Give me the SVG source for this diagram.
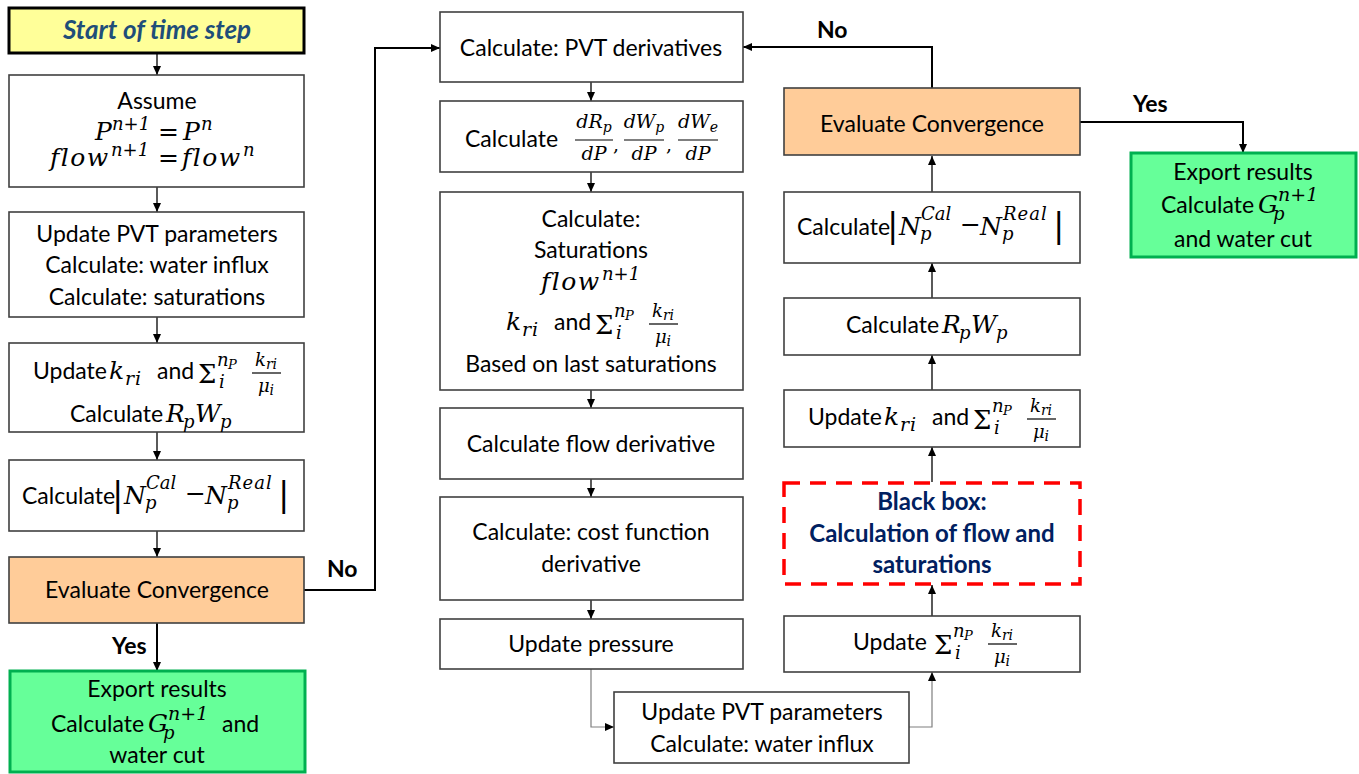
<svg xmlns="http://www.w3.org/2000/svg" width="1359" height="774" viewBox="0 0 1359 774">
<defs>
<marker id="ah" markerWidth="9" markerHeight="8" refX="9" refY="4" orient="auto" markerUnits="userSpaceOnUse"><path d="M0,0 L9,4 L0,8 z" fill="#000"/></marker>
<style>
.box{fill:#fff;stroke:#404040;stroke-width:1.6}
.conv{fill:#FFCC99;stroke:#404040;stroke-width:1.6}
.exp{fill:#66FF99;stroke:#00B050;stroke-width:3}
.t{font-family:Lato,"Open Sans",sans-serif;font-size:23px;fill:#000}
.c{text-anchor:middle}
.b{font-weight:bold}
.m{font-family:"DejaVu Serif",serif;font-style:italic;font-size:25px;fill:#000}
.r{font-style:normal}
.s{font-size:18px}
.ss{font-size:13px}
.f{font-size:19px}
.fs{font-size:14px}
.sg{font-size:26px}
.vb{font-size:34px}
.ls{letter-spacing:1.5px}
.ri{font-size:19px;letter-spacing:1px}
.ln{fill:none;stroke:#000;stroke-width:1.3}
.thk{fill:none;stroke:#000;stroke-width:2}
.gr{fill:none;stroke:#7f7f7f;stroke-width:1.2}
.bar{stroke:#000;stroke-width:1.2}
.bb{fill:#002060;font-size:24px}
</style>
</defs>

<g id="connectors">
<line class="ln" x1="157" y1="53" x2="157" y2="75" marker-end="url(#ah)"/>
<line class="ln" x1="157" y1="187" x2="157" y2="212" marker-end="url(#ah)"/>
<line class="ln" x1="157" y1="317" x2="157" y2="343" marker-end="url(#ah)"/>
<line class="ln" x1="157" y1="432" x2="157" y2="460" marker-end="url(#ah)"/>
<line class="ln" x1="157" y1="531" x2="157" y2="557" marker-end="url(#ah)"/>
<line class="thk" x1="157" y1="623" x2="157" y2="671" marker-end="url(#ah)"/>
<polyline class="thk" points="304,590 375,590 375,48 440,48" marker-end="url(#ah)"/>
<line class="ln" x1="591" y1="82" x2="591" y2="101" marker-end="url(#ah)"/>
<line class="ln" x1="591" y1="172" x2="591" y2="192" marker-end="url(#ah)"/>
<line class="ln" x1="591" y1="390" x2="591" y2="408" marker-end="url(#ah)"/>
<line class="ln" x1="591" y1="479" x2="591" y2="497" marker-end="url(#ah)"/>
<line class="ln" x1="591" y1="600" x2="591" y2="619" marker-end="url(#ah)"/>
<polyline class="gr" points="591,669 591,727 614,727" marker-end="url(#ah)"/>
<polyline class="gr" points="909,727 932,727 932,672" marker-end="url(#ah)"/>
<line class="ln" x1="932" y1="616" x2="932" y2="585" marker-end="url(#ah)"/>
<line class="ln" x1="932" y1="482" x2="932" y2="447" marker-end="url(#ah)"/>
<line class="ln" x1="932" y1="390" x2="932" y2="355" marker-end="url(#ah)"/>
<line class="ln" x1="932" y1="298" x2="932" y2="263" marker-end="url(#ah)"/>
<line class="ln" x1="932" y1="192" x2="932" y2="156" marker-end="url(#ah)"/>
<polyline class="thk" points="932,88 932,47 743,47" marker-end="url(#ah)"/>
<polyline class="thk" points="1080,122 1243,122 1243,153" marker-end="url(#ah)"/>
<text class="t b" x="327" y="577">No</text>
<text class="t b" x="112" y="654">Yes</text>
<text class="t b" x="817" y="38">No</text>
<text class="t b" x="1133" y="112">Yes</text>
</g>

<g id="start">
<rect x="9" y="8" width="295" height="45" fill="#FFFF99" stroke="#000" stroke-width="3"/>
<text class="t c b" x="157" y="39" font-style="italic" style="fill:#1F4E79;font-size:26px">Start of time step</text>
</g>

<g id="assume">
<rect class="box" x="9" y="75" width="295" height="112"/>
<text class="t c" x="157" y="109">Assume</text>
<text class="m" x="95" y="140">P</text><text class="m s" x="112" y="130">n+1</text><text class="m r" x="158" y="140">=</text><text class="m" x="183" y="140">P</text><text class="m s" x="201" y="130">n</text>
<text class="m ls" x="50" y="166">flow</text><text class="m s" x="111" y="156">n+1</text><text class="m r" x="158" y="166">=</text><text class="m ls" x="182" y="166">flow</text><text class="m s" x="243" y="156">n</text>
</g>

<g id="updpvt1">
<rect class="box" x="9" y="212" width="295" height="105"/>
<text class="t c" x="157" y="242">Update PVT parameters</text>
<text class="t c" x="157" y="273">Calculate: water influx</text>
<text class="t c" x="157" y="305">Calculate: saturations</text>
</g>

<g id="updk1">
<rect class="box" x="9" y="343" width="295" height="89"/>
<text class="t" x="33" y="379">Update</text>
<text class="m" x="109" y="379">k</text><text class="m ri" x="125" y="385">ri</text>
<text class="t" x="157" y="379">and</text>
<text class="m r sg" x="198" y="383">Σ</text>
<text class="m s" x="217" y="366">n</text><text class="m ss" x="228" y="369">P</text>
<text class="m s" x="219" y="388">i</text>
<text class="m s c" x="266" y="366">k<tspan class="fs" dy="3">ri</tspan></text>
<line class="bar" x1="252" y1="373" x2="281" y2="373"/>
<text class="m s c" x="266" y="392">μ<tspan class="fs" dy="3">i</tspan></text>
<text class="t" x="70" y="422">Calculate</text>
<text class="m" x="166" y="422">R</text><text class="m s" x="183" y="428">p</text>
<text class="m" x="195" y="422">W</text><text class="m s" x="220" y="428">p</text>
</g>

<g id="calcN1">
<rect class="box" x="9" y="460" width="295" height="71"/>
<text class="t" x="22" y="504">Calculate</text>
<text class="m r vb" x="112" y="506">|</text>
<text class="m" x="124" y="504">N</text><text class="m s" x="146" y="489">Cal</text><text class="m s" x="145" y="509">p</text>
<text class="m r" x="185" y="502">−</text>
<text class="m" x="205" y="504">N</text><text class="m s" x="228" y="489" letter-spacing="1">Real</text><text class="m s" x="227" y="509">p</text>
<text class="m r vb" x="278" y="506">|</text>
</g>

<g id="conv1">
<rect class="conv" x="9" y="557" width="295" height="66"/>
<text class="t c" x="157" y="598">Evaluate Convergence</text>
</g>

<g id="export1">
<rect class="exp" x="10" y="671" width="295" height="101"/>
<text class="t c" x="157" y="697">Export results</text>
<text class="t" x="51" y="732">Calculate</text>
<text class="m" x="148" y="732">G</text><text class="m s" x="168" y="720" style="font-size:19px">n+1</text><text class="m s" x="163" y="739">p</text>
<text class="t" x="222" y="732">and</text>
<text class="t c" x="157" y="763">water cut</text>
</g>

<g id="pvtderiv">
<rect class="box" x="440" y="12" width="303" height="70"/>
<text class="t c" x="591" y="56">Calculate: PVT derivatives</text>
</g>

<g id="dR">
<rect class="box" x="440" y="101" width="303" height="71"/>
<text class="t" x="465" y="147">Calculate</text>
<text class="m f c" x="594" y="128">dR<tspan class="fs" dy="4">p</tspan></text>
<line class="bar" x1="575" y1="140" x2="613" y2="140"/>
<text class="m f c" x="594" y="160">dP</text>
<text class="m r f" x="613" y="151">,</text>
<text class="m f c" x="644" y="128">dW<tspan class="fs" dy="4">p</tspan></text>
<line class="bar" x1="624" y1="140" x2="664" y2="140"/>
<text class="m f c" x="644" y="160">dP</text>
<text class="m r f" x="666" y="151">,</text>
<text class="m f c" x="698" y="128">dW<tspan class="fs" dy="4">e</tspan></text>
<line class="bar" x1="678" y1="140" x2="718" y2="140"/>
<text class="m f c" x="698" y="160">dP</text>
</g>

<g id="sat">
<rect class="box" x="440" y="192" width="303" height="198"/>
<text class="t c" x="591" y="227">Calculate:</text>
<text class="t c" x="591" y="258">Saturations</text>
<text class="m ls" x="541" y="290">flow</text><text class="m s" x="602" y="280">n+1</text>
<g transform="translate(397,-49)">
<text class="m" x="109" y="379">k</text><text class="m ri" x="125" y="385">ri</text>
<text class="t" x="157" y="379">and</text>
<text class="m r sg" x="198" y="383">Σ</text>
<text class="m s" x="217" y="366">n</text><text class="m ss" x="228" y="369">P</text>
<text class="m s" x="219" y="388">i</text>
<text class="m s c" x="266" y="366">k<tspan class="fs" dy="3">ri</tspan></text>
<line class="bar" x1="252" y1="373" x2="281" y2="373"/>
<text class="m s c" x="266" y="392">μ<tspan class="fs" dy="3">i</tspan></text>
</g>
<text class="t c" x="591" y="372">Based on last saturations</text>
</g>

<g id="flowderiv">
<rect class="box" x="440" y="408" width="303" height="71"/>
<text class="t c" x="591" y="452">Calculate flow derivative</text>
</g>

<g id="costderiv">
<rect class="box" x="440" y="497" width="303" height="103"/>
<text class="t c" x="591" y="540">Calculate: cost function</text>
<text class="t c" x="591" y="572">derivative</text>
</g>

<g id="updpress">
<rect class="box" x="440" y="619" width="303" height="50"/>
<text class="t c" x="591" y="652">Update pressure</text>
</g>

<g id="updpvt2">
<rect class="box" x="614" y="692" width="295" height="71"/>
<text class="t c" x="762" y="720">Update PVT parameters</text>
<text class="t c" x="762" y="752">Calculate: water influx</text>
</g>

<g id="updsum">
<rect class="box" x="784" y="616" width="296" height="56"/>
<text class="t" x="853" y="650">Update</text>
<g transform="translate(736,271)">
<text class="m r sg" x="198" y="383">Σ</text>
<text class="m s" x="217" y="366">n</text><text class="m ss" x="228" y="369">P</text>
<text class="m s" x="219" y="388">i</text>
<text class="m s c" x="266" y="366">k<tspan class="fs" dy="3">ri</tspan></text>
<line class="bar" x1="252" y1="373" x2="281" y2="373"/>
<text class="m s c" x="266" y="392">μ<tspan class="fs" dy="3">i</tspan></text>
</g>
</g>

<g id="blackbox">
<rect x="784" y="483" width="296" height="101" fill="none" stroke="#FF0000" stroke-width="3.5" stroke-dasharray="16,10"/>
<text class="t c b bb" x="932" y="510">Black box:</text>
<text class="t c b bb" x="932" y="542">Calculation of flow and</text>
<text class="t c b bb" x="932" y="573">saturations</text>
</g>

<g id="updk2">
<rect class="box" x="784" y="390" width="296" height="57"/>
<g transform="translate(775,46)">
<text class="t" x="33" y="379">Update</text>
<text class="m" x="109" y="379">k</text><text class="m ri" x="125" y="385">ri</text>
<text class="t" x="157" y="379">and</text>
<text class="m r sg" x="198" y="383">Σ</text>
<text class="m s" x="217" y="366">n</text><text class="m ss" x="228" y="369">P</text>
<text class="m s" x="219" y="388">i</text>
<text class="m s c" x="266" y="366">k<tspan class="fs" dy="3">ri</tspan></text>
<line class="bar" x1="252" y1="373" x2="281" y2="373"/>
<text class="m s c" x="266" y="392">μ<tspan class="fs" dy="3">i</tspan></text>
</g>
</g>

<g id="rpwp2">
<rect class="box" x="784" y="298" width="296" height="57"/>
<g transform="translate(776,-89)">
<text class="t" x="70" y="422">Calculate</text>
<text class="m" x="166" y="422">R</text><text class="m s" x="183" y="428">p</text>
<text class="m" x="195" y="422">W</text><text class="m s" x="220" y="428">p</text>
</g>
</g>

<g id="calcN2">
<rect class="box" x="784" y="192" width="296" height="71"/>
<g transform="translate(775,-269)">
<text class="t" x="22" y="504">Calculate</text>
<text class="m r vb" x="112" y="506">|</text>
<text class="m" x="124" y="504">N</text><text class="m s" x="146" y="489">Cal</text><text class="m s" x="145" y="509">p</text>
<text class="m r" x="185" y="502">−</text>
<text class="m" x="205" y="504">N</text><text class="m s" x="228" y="489" letter-spacing="1">Real</text><text class="m s" x="227" y="509">p</text>
<text class="m r vb" x="278" y="506">|</text>
</g>
</g>

<g id="conv2">
<rect class="conv" x="784" y="88" width="296" height="67"/>
<text class="t c" x="932" y="132">Evaluate Convergence</text>
</g>

<g id="export2">
<rect class="exp" x="1131" y="153" width="225" height="104"/>
<text class="t c" x="1243" y="180">Export results</text>
<g transform="translate(1110,-519)">
<text class="t" x="51" y="732">Calculate</text>
<text class="m" x="148" y="732">G</text><text class="m s" x="168" y="720" style="font-size:19px">n+1</text><text class="m s" x="163" y="739">p</text>
</g>
<text class="t c" x="1243" y="247">and water cut</text>
</g>
</svg>
